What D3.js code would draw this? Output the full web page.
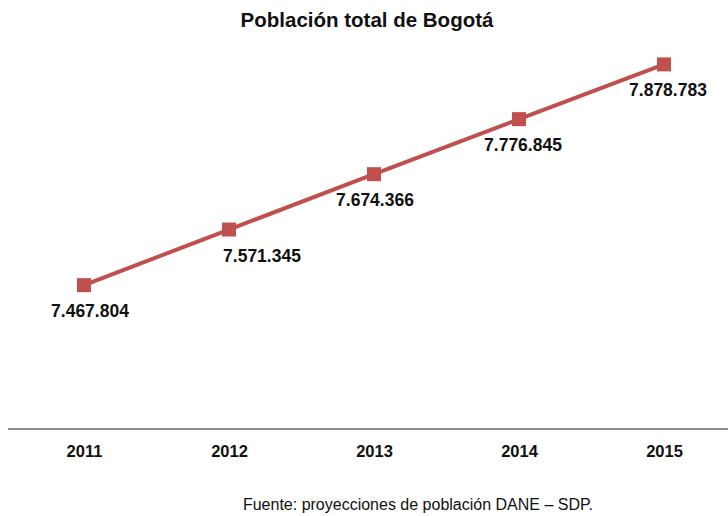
<!DOCTYPE html>
<html>
<head>
<meta charset="utf-8">
<script src="https://cdn.jsdelivr.net/npm/d3@7"></script>
<style>
  body { margin: 0; background: #fff; }
  svg { font-family: "Liberation Sans", Arial, sans-serif; }
</style>
</head>
<body>
<svg width="728" height="516"></svg>
<script>
// poblacion por año
var years = ["2011", "2012", "2013", "2014", "2015"];
var poblacion = [7467804, 7571345, 7674366, 7776845, 7878783];
var labels = ["7.467.804", "7.571.345", "7.674.366", "7.776.845", "7.878.783"];

var svg = d3.select("svg");

var x = d3.scalePoint()
    .domain(years)
    .range([84, 664]);

var y = d3.scaleLinear()
    .domain([7200000, 7900000])
    .range([429, 53]);

var rojo = "#C0504D";

// titulo
svg.append("text")
    .attr("x", 367)
    .attr("y", 27)
    .attr("text-anchor", "middle")
    .style("font-weight", "bold")
    .style("font-size", "20.5px")
    .attr("fill", "#111")
    .text("Población total de Bogotá");

// eje x
var axis = svg.append("g")
    .attr("transform", "translate(0,429)")
    .call(d3.axisBottom(x).tickSize(0).tickPadding(16));
axis.select(".domain").remove();
axis.append("line")
    .attr("x1", 8).attr("x2", 728)
    .attr("stroke", "#8c8c8c")
    .attr("stroke-width", 2);
axis.selectAll(".tick text")
    .attr("font-family", "Liberation Sans, Arial, sans-serif")
    .attr("font-size", "16.5px")
    .attr("font-weight", "bold")
    .attr("fill", "#111");

var pts = years.map(function(d, i) { return {year: d, v: poblacion[i], lab: labels[i]}; });

var line = d3.line()
    .x(function(d) { return x(d.year); })
    .y(function(d) { return y(d.v); });

svg.append("path")
    .datum(pts)
    .attr("d", line)
    .attr("fill", "none")
    .attr("stroke", rojo)
    .attr("stroke-width", 4);

svg.selectAll("rect.mk")
    .data(pts)
    .enter().append("rect")
    .attr("class", "mk")
    .attr("x", function(d) { return x(d.year) - 7; })
    .attr("y", function(d) { return y(d.v) - 7; })
    .attr("width", 14)
    .attr("height", 14)
    .attr("fill", rojo);

// la etiqueta de 2012 queda corrida a la derecha
var dxs = [6, 33, 1, 4, 4];

svg.selectAll("text.lab")
    .data(pts)
    .enter().append("text")
    .attr("class", "lab")
    .attr("x", function(d, i) { return x(d.year) + dxs[i]; })
    .attr("y", function(d) { return y(d.v) + 32; })
    .attr("text-anchor", "middle")
    .style("font-weight", "bold")
    .style("font-size", "17.5px")
    .attr("fill", "#111")
    .text(function(d) { return d.lab; });

// fuente
svg.append("text")
    .attr("x", 418)
    .attr("y", 510)
    .attr("text-anchor", "middle")
    .style("font-size", "16px")
    .attr("fill", "#111")
    .text("Fuente: proyecciones de población DANE – SDP.");
</script>
</body>
</html>
